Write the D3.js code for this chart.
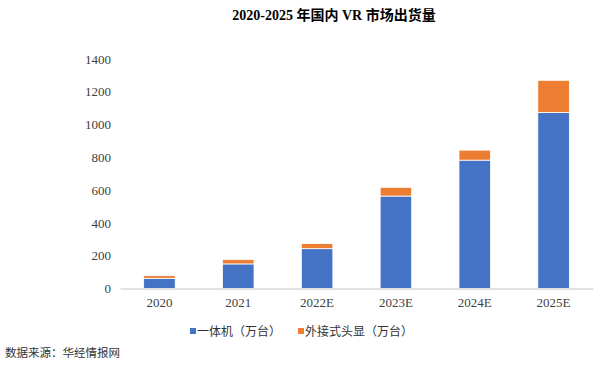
<!DOCTYPE html>
<html><head><meta charset="utf-8">
<script src="https://cdn.jsdelivr.net/npm/d3@7"></script>
<style>body{margin:0;background:#fff}svg{display:block}</style>
</head><body><svg id="c" width="600" height="368"></svg>
<script>
const categories = ["2020","2021","2022E","2023E","2024E","2025E"];
const allInOne = [62, 150, 243, 564, 783, 1073];
const tethered = [16, 26, 31, 53, 61, 197];
const seriesNames = ["一体机（万台）","外接式头显（万台）"];
const yTicks = [0,200,400,600,800,1000,1200,1400];
const colors = ["#4472C4","#ED7D31"];

const svg = d3.select("#c");
const serif = "'Liberation Serif','Times New Roman','Noto Sans CJK SC',serif";
const cjk = "'Noto Sans CJK SC',serif";

const x = d3.scaleBand().domain(categories).range([120, 593]).paddingInner(0.6).paddingOuter(0.3);
const y = d3.scaleLinear().domain([0,1400]).range([288.5, 59]);

svg.append("text").attr("x", 334).attr("y", 20).attr("text-anchor","middle")
  .attr("font-family", "'Liberation Serif','Noto Sans CJK SC',serif").attr("font-weight","bold").attr("font-size",14)
  .text("2020-2025 年国内 VR 市场出货量");

// y axis labels
const yAxis = d3.axisLeft(y).tickValues(yTicks).tickFormat(d3.format("d")).tickSize(0).tickPadding(0);
const ya = svg.append("g").attr("transform","translate(111,0)").call(yAxis);
ya.select(".domain").remove();
ya.selectAll("text").attr("font-family",serif).attr("font-size",13).attr("fill","#404040");

const stack = categories.map((c,i)=>({c, a: allInOne[i], t: tethered[i]}));
const g = svg.append("g");
g.selectAll("rect.a").data(stack).join("rect")
  .attr("x", d=>x(d.c)).attr("width", x.bandwidth())
  .attr("y", d=>y(d.a)).attr("height", d=>y(0)-y(d.a))
  .attr("fill", colors[0]).attr("stroke","#fff").attr("stroke-width",0.8);
g.selectAll("rect.t").data(stack).join("rect")
  .attr("x", d=>x(d.c)).attr("width", x.bandwidth())
  .attr("y", d=>y(d.a+d.t)).attr("height", d=>y(d.a)-y(d.a+d.t))
  .attr("fill", colors[1]).attr("stroke","#fff").attr("stroke-width",0.8);

// x axis
const xAxis = d3.axisBottom(x).tickSize(0).tickPadding(9);
const xa = svg.append("g").attr("transform",`translate(0,${y(0)})`).call(xAxis);
xa.select(".domain").attr("stroke","#d9d9d9").attr("stroke-width",1.5);
xa.selectAll("text").attr("font-family",serif).attr("font-size",13).attr("fill","#404040");

// legend
const legX = [190, 298];
seriesNames.forEach((n,i)=>{
  svg.append("rect").attr("x",legX[i]).attr("y",328).attr("width",6).attr("height",6).attr("fill",colors[i]);
  svg.append("text").attr("x",legX[i]+7).attr("y",336).attr("font-family",cjk).attr("font-size",12).attr("fill","#333").text(n);
});

svg.append("text").attr("x",5).attr("y",357).attr("font-family",cjk).attr("font-size",11.5).attr("fill","#333").text("数据来源：华经情报网");
</script></body></html>
